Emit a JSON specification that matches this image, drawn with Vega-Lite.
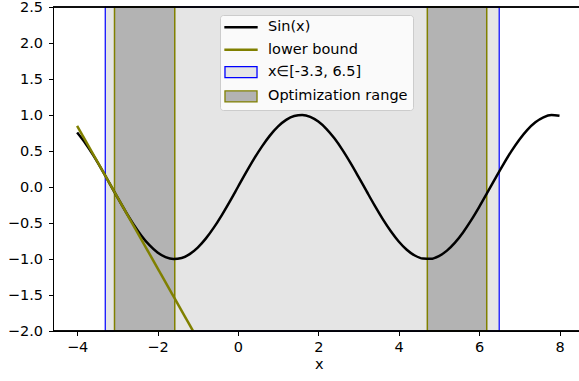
{
  "$schema": "https://vega.github.io/schema/vega-lite/v6.json",
  "width": 526,
  "height": 324,
  "autosize": "none",
  "padding": {"left": 53, "top": 7, "right": 0, "bottom": 50},
  "background": "white",
  "config": {
    "view": {"stroke": null},
    "font": "DejaVu Sans",
    "axis": {
      "grid": false,
      "domainColor": "black",
      "domainWidth": 1,
      "tickColor": "black",
      "tickSize": 4.5,
      "tickWidth": 1,
      "labelFont": "DejaVu Sans",
      "labelFontSize": 14.5,
      "labelColor": "black",
      "labelOverlap": false,
      "labelBound": false,
      "titleFont": "DejaVu Sans",
      "titleFontSize": 14.5,
      "titleFontWeight": "normal",
      "titleColor": "black",
      "zindex": 1
    }
  },
  "datasets": {
    "sin": [
      {"x": -4.0, "y": 0.7568}, {"x": -3.8, "y": 0.6119}, {"x": -3.6, "y": 0.4425}, {"x": -3.4, "y": 0.2555},
      {"x": -3.2, "y": 0.0584}, {"x": -3.0, "y": -0.1411}, {"x": -2.8, "y": -0.335}, {"x": -2.6, "y": -0.5155},
      {"x": -2.4, "y": -0.6755}, {"x": -2.2, "y": -0.8085}, {"x": -2.0, "y": -0.9093}, {"x": -1.8, "y": -0.9738},
      {"x": -1.6, "y": -0.9996}, {"x": -1.4, "y": -0.9854}, {"x": -1.2, "y": -0.932}, {"x": -1.0, "y": -0.8415},
      {"x": -0.8, "y": -0.7174}, {"x": -0.6, "y": -0.5646}, {"x": -0.4, "y": -0.3894}, {"x": -0.2, "y": -0.1987},
      {"x": 0.0, "y": 0.0}, {"x": 0.2, "y": 0.1987}, {"x": 0.4, "y": 0.3894}, {"x": 0.6, "y": 0.5646},
      {"x": 0.8, "y": 0.7174}, {"x": 1.0, "y": 0.8415}, {"x": 1.2, "y": 0.932}, {"x": 1.4, "y": 0.9854},
      {"x": 1.6, "y": 0.9996}, {"x": 1.8, "y": 0.9738}, {"x": 2.0, "y": 0.9093}, {"x": 2.2, "y": 0.8085},
      {"x": 2.4, "y": 0.6755}, {"x": 2.6, "y": 0.5155}, {"x": 2.8, "y": 0.335}, {"x": 3.0, "y": 0.1411},
      {"x": 3.2, "y": -0.0584}, {"x": 3.4, "y": -0.2555}, {"x": 3.6, "y": -0.4425}, {"x": 3.8, "y": -0.6119},
      {"x": 4.0, "y": -0.7568}, {"x": 4.2, "y": -0.8716}, {"x": 4.4, "y": -0.9516}, {"x": 4.6, "y": -0.9937},
      {"x": 4.8, "y": -0.9962}, {"x": 5.0, "y": -0.9589}, {"x": 5.2, "y": -0.8835}, {"x": 5.4, "y": -0.7728},
      {"x": 5.6, "y": -0.6313}, {"x": 5.8, "y": -0.4646}, {"x": 6.0, "y": -0.2794}, {"x": 6.2, "y": -0.0831},
      {"x": 6.4, "y": 0.1165}, {"x": 6.6, "y": 0.3115}, {"x": 6.8, "y": 0.4941}, {"x": 7.0, "y": 0.657},
      {"x": 7.2, "y": 0.7937}, {"x": 7.4, "y": 0.8987}, {"x": 7.6, "y": 0.9679}, {"x": 7.8, "y": 0.9985},
      {"x": 8.0, "y": 0.9894}
    ],
    "bound": [
      {"x": -4.0, "y": 0.849},
      {"x": -1.0, "y": -2.114}
    ],
    "outer": [
      {"x0": -3.3, "x1": 6.5}
    ],
    "opt": [
      {"x0": -3.07, "x1": -1.571},
      {"x0": 4.712, "x1": 6.19}
    ],
    "series": [
      {"series": "Sin(x)"},
      {"series": "lower bound"},
      {"series": "x∈[-3.3, 6.5]"},
      {"series": "Optimization range"}
    ]
  },
  "layer": [
    {
      "data": {"name": "outer"},
      "mark": {"type": "rect", "fill": "#e5e5e5", "stroke": "#0000ff", "strokeWidth": 1.2},
      "encoding": {
        "x": {
          "field": "x0", "type": "quantitative",
          "scale": {"domain": [-4.6, 8.485], "nice": false, "zero": false},
          "axis": {
            "values": [-4, -2, 0, 2, 4, 6, 8],
            "format": "d",
            "labelPadding": 5,
            "title": "x",
            "titleX": 265.7,
            "titleY": 37,
            "titleBaseline": "alphabetic"
          }
        },
        "x2": {"field": "x1"}
      }
    },
    {
      "data": {"name": "opt"},
      "mark": {"type": "rect", "fill": "#b3b3b3", "stroke": "#808000", "strokeWidth": 1.5},
      "encoding": {
        "x": {"field": "x0", "type": "quantitative"},
        "x2": {"field": "x1"}
      }
    },
    {
      "data": {"name": "sin"},
      "mark": {"type": "line", "color": "black", "strokeWidth": 2.5, "interpolate": "monotone"},
      "encoding": {
        "x": {"field": "x", "type": "quantitative"},
        "y": {
          "field": "y", "type": "quantitative",
          "scale": {"domain": [-2, 2.5], "nice": false, "zero": false},
          "axis": {
            "values": [-2, -1.5, -1, -0.5, 0, 0.5, 1, 1.5, 2, 2.5],
            "format": ".1f",
            "labelPadding": 6,
            "title": null
          }
        }
      }
    },
    {
      "data": {"name": "bound"},
      "mark": {"type": "line", "color": "#808000", "strokeWidth": 2.5, "clip": true},
      "encoding": {
        "x": {"field": "x", "type": "quantitative"},
        "y": {
          "field": "y", "type": "quantitative",
          "axis": {
            "values": [-2, -1.5, -1, -0.5, 0, 0.5, 1, 1.5, 2, 2.5],
            "format": ".1f",
            "labelPadding": 6,
            "title": null
          }
        }
      }
    },
    {
      "data": {"name": "series"},
      "mark": {"type": "rule", "color": "black", "strokeWidth": 1},
      "encoding": {
        "y": {
          "datum": 2.5, "type": "quantitative",
          "axis": {
            "values": [-2, -1.5, -1, -0.5, 0, 0.5, 1, 1.5, 2, 2.5],
            "format": ".1f",
            "labelPadding": 6,
            "title": null
          }
        }
      }
    },
    {
      "data": {"name": "series"},
      "mark": {"type": "rule", "color": "black", "strokeWidth": 1},
      "encoding": {
        "y": {
          "datum": -2, "type": "quantitative",
          "axis": {
            "values": [-2, -1.5, -1, -0.5, 0, 0.5, 1, 1.5, 2, 2.5],
            "format": ".1f",
            "labelPadding": 6,
            "title": null
          }
        }
      }
    },
    {
      "data": {"name": "series"},
      "transform": [{"filter": "false"}],
      "mark": {"type": "point", "filled": true, "opacity": 1, "size": 144, "strokeWidth": 1.3},
      "encoding": {
        "fill": {
          "field": "series", "type": "nominal",
          "scale": {
            "domain": ["Sin(x)", "lower bound", "x∈[-3.3, 6.5]", "Optimization range"],
            "range": ["black", "#808000", "#e5e5e5", "#b3b3b3"]
          },
          "legend": {
            "title": null,
            "orient": "none",
            "legendX": 167,
            "legendY": 8,
            "padding": 5,
            "rowPadding": 7.4,
            "labelFont": "DejaVu Sans",
            "labelFontSize": 14.5,
            "labelColor": "black",
            "labelOffset": 19.75,
            "symbolOffset": 8.75,
            "symbolSize": 144,
            "symbolStrokeWidth": 1.3,
            "strokeColor": "#cccccc",
            "fillColor": "rgba(255,255,255,0.8)",
            "cornerRadius": 3
          }
        },
        "stroke": {
          "field": "series", "type": "nominal",
          "scale": {
            "domain": ["Sin(x)", "lower bound", "x∈[-3.3, 6.5]", "Optimization range"],
            "range": ["black", "#808000", "#0000ff", "#808000"]
          },
          "legend": {"title": null}
        },
        "shape": {
          "field": "series", "type": "nominal",
          "scale": {
            "domain": ["Sin(x)", "lower bound", "x∈[-3.3, 6.5]", "Optimization range"],
            "range": ["M-2.67,-0.1H2.67V0.1H-2.67Z", "M-2.67,-0.1H2.67V0.1H-2.67Z", "M-2.67,-0.92H2.67V0.92H-2.67Z", "M-2.67,-0.92H2.67V0.92H-2.67Z"]
          },
          "legend": {"title": null}
        }
      }
    }
  ]
}
